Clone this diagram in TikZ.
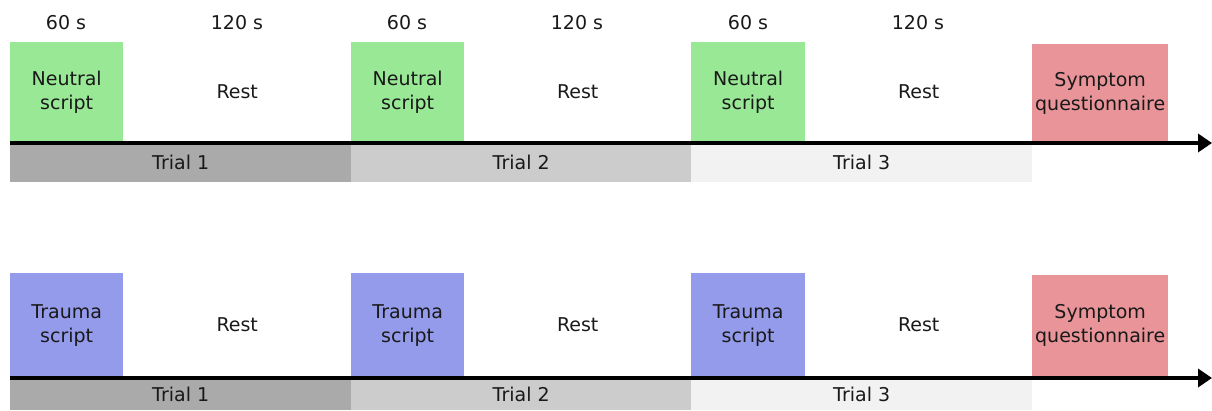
\documentclass[tikz,border=0pt]{standalone}
\usepackage{fontspec}
\setmainfont{DejaVu Sans}
\usetikzlibrary{arrows.meta}
\definecolor{neutralc}{RGB}{153,232,150}
\definecolor{traumac}{RGB}{148,155,234}
\definecolor{symptc}{RGB}{232,148,153}
\definecolor{trialA}{RGB}{170,170,170}
\definecolor{trialB}{RGB}{204,204,204}
\definecolor{trialC}{RGB}{242,242,242}
\tikzset{
  box/.style={anchor=north west, inner sep=0pt, align=center, font=\fontsize{19}{24}\selectfont, text=black!90},
  trialbar/.style={anchor=north west, inner sep=0pt, minimum height=39pt, minimum width=340.5pt, font=\fontsize{19}{24}\selectfont, text=black!90},
  lbl/.style={inner sep=0pt, font=\fontsize{19}{24}\selectfont, text=black!90},
  timeline/.style={line width=3.5pt, -{Triangle[length=14pt,width=18pt]}}
}
\begin{document}
\begin{tikzpicture}[x=1pt,y=-1pt]
\useasboundingbox (0,0) rectangle (1212,410);
% ---------- top row ----------
\node[box, fill=neutralc, minimum width=113pt, minimum height=100pt] (n1) at (10,42) {Neutral\\script};
\node[box, minimum width=228pt, minimum height=100pt] (r1) at (123,42) {Rest};
\node[box, fill=neutralc, minimum width=113pt, minimum height=100pt] (n2) at (351,42) {Neutral\\script};
\node[box, minimum width=227pt, minimum height=100pt] (r2) at (464,42) {Rest};
\node[box, fill=neutralc, minimum width=114pt, minimum height=100pt] (n3) at (691,42) {Neutral\\script};
\node[box, minimum width=227pt, minimum height=100pt] (r3) at (805,42) {Rest};
\node[box, fill=symptc, minimum width=136pt, minimum height=98pt] (q1) at (1032,44) {Symptom\\questionnaire};
\node[lbl] (t60a) at (66,23) {60 s};
\node[lbl] (t120a) at (237,23) {120 s};
\node[lbl] (t60b) at (407,23) {60 s};
\node[lbl] (t120b) at (577,23) {120 s};
\node[lbl] (t60c) at (748,23) {60 s};
\node[lbl] (t120c) at (918,23) {120 s};
\node[trialbar, fill=trialA, minimum width=341pt] (ta1) at (10,143) {Trial 1};
\node[trialbar, fill=trialB, minimum width=340pt] (ta2) at (351,143) {Trial 2};
\node[trialbar, fill=trialC, minimum width=341pt] (ta3) at (691,143) {Trial 3};
\coordinate (s1) at (10,143);
\coordinate (e1) at (1212,143);
\draw[timeline] (s1) -- (e1);
% ---------- bottom row ----------
\node[box, fill=traumac, minimum width=113pt, minimum height=104pt] (m1) at (10,273) {Trauma\\script};
\node[box, minimum width=228pt, minimum height=104pt] (p1) at (123,273) {Rest};
\node[box, fill=traumac, minimum width=113pt, minimum height=104pt] (m2) at (351,273) {Trauma\\script};
\node[box, minimum width=227pt, minimum height=104pt] (p2) at (464,273) {Rest};
\node[box, fill=traumac, minimum width=114pt, minimum height=104pt] (m3) at (691,273) {Trauma\\script};
\node[box, minimum width=227pt, minimum height=104pt] (p3) at (805,273) {Rest};
\node[box, fill=symptc, minimum width=136pt, minimum height=101pt] (q2) at (1032,275) {Symptom\\questionnaire};
\node[trialbar, fill=trialA, minimum width=341pt, minimum height=32pt] (tb1) at (10,378) {Trial 1};
\node[trialbar, fill=trialB, minimum width=340pt, minimum height=32pt] (tb2) at (351,378) {Trial 2};
\node[trialbar, fill=trialC, minimum width=341pt, minimum height=32pt] (tb3) at (691,378) {Trial 3};
\coordinate (s2) at (10,378);
\coordinate (e2) at (1212,378);
\draw[timeline] (s2) -- (e2);
\end{tikzpicture}
\end{document}
